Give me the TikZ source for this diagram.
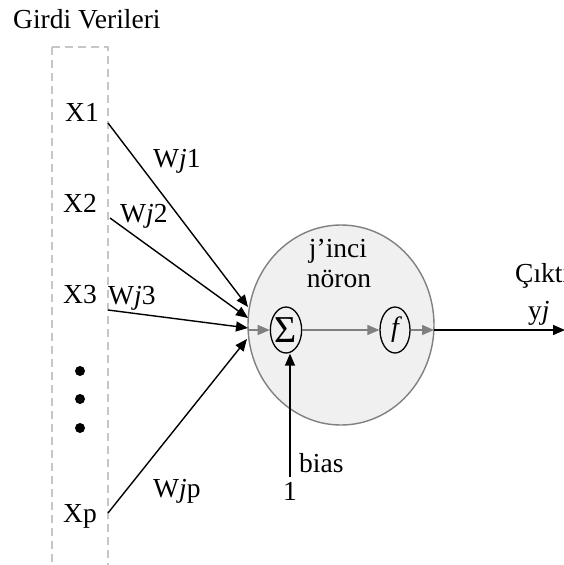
\documentclass[tikz,border=0pt]{standalone}
\usepackage{fontspec}
\setmainfont{Liberation Serif}
\usetikzlibrary{arrows.meta,shapes.geometric}
\begin{document}
\begin{tikzpicture}[x=1pt,y=-1pt,
  txt/.style={inner sep=0pt,font=\fontsize{27.5}{32}\selectfont},
  blk/.style={line width=1.4pt,-{Triangle[length=12pt,width=10pt]}},
  gry/.style={line width=1.4pt,draw=gray,-{Triangle[length=12pt,width=10pt]},gray},
  unit/.style={ellipse,draw=black,line width=1.3pt,fill=gray!12,minimum width=30pt,minimum height=46pt,inner sep=0pt}]
\useasboundingbox (0,0) rectangle (564,565);
% input column
\draw[gray!45,line width=1.2pt,dash pattern=on 8pt off 5pt] (52,47) -- (52,575);
\draw[gray!45,line width=1.2pt,dash pattern=on 8pt off 5pt] (52,47) -- (108,47) -- (108,575);
\node[txt,anchor=base west] (title) at (13,28) {Girdi Verileri};
\node[txt,anchor=base] (x1) at (82,121) {X1};
\node[txt,anchor=base] (x2) at (80,212) {X2};
\node[txt,anchor=base] (x3) at (80,303) {X3};
\node[txt,anchor=base] (xp) at (80,522) {Xp};
\fill (80,371) circle (5pt) (80,399) circle (5pt) (80,428) circle (5pt);
% neuron
\node[ellipse,draw=gray,line width=1.4pt,fill=gray!12,minimum width=186pt,minimum height=200pt,inner sep=0pt] (neuron) at (341,325) {};
\node[txt,anchor=base] (l1) at (338,257) {j’inci};
\node[txt,anchor=base] (l2) at (339,287) {nöron};
\node[unit] (sig) at (286,330) {\fontsize{38}{38}\selectfont Σ};
\node[unit] (f) at (395,330) {\fontsize{28}{28}\selectfont\itshape f};
% input connector ends
\coordinate (s1) at (108,123);
\coordinate (s2) at (110,218);
\coordinate (s3) at (108,310);
\coordinate (sp) at (108,513);
\coordinate (e1) at (248,307);
\coordinate (e2) at (248,318);
\coordinate (e3) at (248,328);
\coordinate (ep) at (247,339);
\draw[blk] (s1) -- (e1);
\draw[blk] (s2) -- (e2);
\draw[blk] (s3) -- (e3);
\draw[blk] (sp) -- (ep);
\node[txt,anchor=base west] (w1) at (153,167) {W\textit{j}1};
\node[txt,anchor=base west] (w2) at (120,222) {W\textit{j}2};
\node[txt,anchor=base west] (w3) at (108,304) {W\textit{j}3};
\node[txt,anchor=base west] (wp) at (153,497) {W\textit{j}p};
% inner flow
\coordinate (cin) at (248,330);
\coordinate (cout) at (434,330);
\coordinate (yend) at (565,330);
\draw[gry] (cin) -- (sig.west);
\draw[gry] (sig.east) -- (f.west);
\draw[gry] (f.east) -- (cout);
\draw[blk] (cout) -- (yend);
\node[txt,anchor=base west] (out) at (515,282) {Çıktı};
\node[txt,anchor=base west] (yj) at (528,319) {y\textit{j}};
% bias
\coordinate (b0) at (290,477);
\draw[blk] (b0) -- (sig.south -| b0);
\node[txt,anchor=base] (one) at (290,500) {1};
\node[txt,anchor=base west] (bias) at (299,472) {bias};
\end{tikzpicture}
\end{document}
